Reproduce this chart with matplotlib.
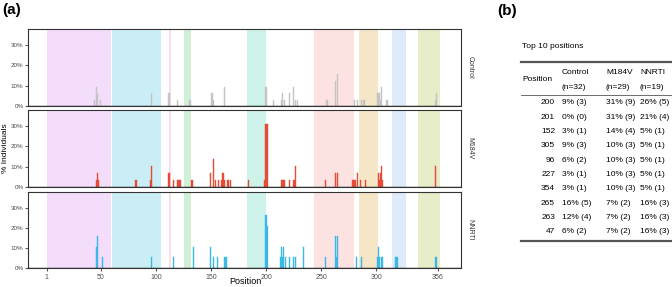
import matplotlib
matplotlib.use("Agg")
import matplotlib.pyplot as plt

# ---- data ----
# shaded regions along the sequence (start, end)
region_start = [1, 60.5, 112, 126, 183, 244, 284, 314, 338]
region_end = [59.5, 105, 114, 132, 200, 280, 302, 327, 358]
region_color = ["#f3ddfb", "#cbeef6", "#fddcea", "#cfefd6", "#cdf2ea",
                "#fde2e2", "#f5e6c8", "#dfeafb", "#e7ecc9"]

ctrl_pos = [44, 46, 47, 50, 96, 112, 120, 131, 151, 152, 162, 200, 207, 214, 215,
            217, 221, 225, 227, 229, 255, 256, 263, 265, 280, 283, 287, 289, 301,
            302, 303, 304, 305, 309, 310, 354, 355]
ctrl_val = [3.1, 9.4, 6.2, 3.1, 6.2, 6.2, 3.1, 3.1, 6.2, 3.1, 9.4, 9.4, 3.1, 3.1, 6.2,
            3.1, 6.2, 9.4, 3.1, 3.1, 3.1, 3.1, 12.5, 15.6, 3.1, 3.1, 3.1, 3.1, 6.2,
            6.2, 6.2, 3.1, 9.4, 3.1, 3.1, 3.1, 6.2]

m184v_pos = [46, 47, 48, 82, 95, 96, 112, 116, 120, 121, 122, 132, 133, 150, 152,
             154, 157, 160, 161, 162, 165, 166, 168, 184, 199, 200, 201, 214, 215,
             216, 217, 221, 225, 226, 227, 254, 263, 265, 279, 280, 281, 283, 286,
             290, 302, 303, 304, 305, 306, 354]
m184v_val = [3.4, 6.9, 3.4, 3.4, 3.4, 10.3, 6.9, 3.4, 3.4, 3.4, 3.4, 3.4, 3.4, 6.9, 13.8,
             3.4, 3.4, 3.4, 6.9, 3.4, 3.4, 3.4, 3.4, 3.4, 3.4, 31.0, 31.0, 3.4, 3.4,
             3.4, 3.4, 3.4, 3.4, 3.4, 10.3, 3.4, 6.9, 6.9, 3.4, 3.4, 3.4, 6.9, 3.4,
             3.4, 6.9, 3.4, 6.9, 10.3, 3.4, 10.3]

nnrti_pos = [46, 47, 52, 96, 116, 134, 150, 152, 156, 162, 163, 164, 200, 201, 213,
             214, 215, 216, 218, 221, 225, 227, 234, 254, 263, 264, 265, 282, 287,
             301, 302, 303, 305, 306, 318, 319, 354, 355]
nnrti_val = [10.5, 15.8, 5.3, 5.3, 5.3, 10.5, 10.5, 5.3, 5.3, 5.3, 5.3, 5.3, 26.3, 21.1, 5.3,
             10.5, 5.3, 10.5, 5.3, 5.3, 5.3, 5.3, 10.5, 5.3, 15.8, 5.3, 15.8, 5.3, 5.3,
             5.3, 10.5, 5.3, 5.3, 5.3, 5.3, 5.3, 5.3, 5.3]

groups = ["Control", "M184V", "NNRTI"]
group_color = ["#c4c4c4", "#e64b35", "#3bb8e5"]

x_ticks = [1, 50, 100, 150, 200, 250, 300, 356]
y_ticks = [0, 10, 20, 30]

tbl_pos = ["200", "201", "152", "305", "96", "227", "354", "265", "263", "47"]
tbl_ctrl = ["9% (3)", "0% (0)", "3% (1)", "9% (3)", "6% (2)", "3% (1)", "3% (1)",
            "16% (5)", "12% (4)", "6% (2)"]
tbl_m184v = ["31% (9)", "31% (9)", "14% (4)", "10% (3)", "10% (3)", "10% (3)",
             "10% (3)", "7% (2)", "7% (2)", "7% (2)"]
tbl_nnrti = ["26% (5)", "21% (4)", "5% (1)", "5% (1)", "5% (1)", "5% (1)", "5% (1)",
             "16% (3)", "16% (3)", "16% (3)"]
tbl_head = ["Control", "M184V", "NNRTI"]
tbl_n = ["(n=32)", "(n=29)", "(n=19)"]

plt.rcParams['font.family'] = ['Liberation Sans', 'DejaVu Sans']

W, H = 672, 287
fig = plt.figure(figsize=(W / 100, H / 100), dpi=100)


def fx(px):
    return px / W


def fy(py):
    return 1 - py / H


panels = [(29, 106), (110, 187), (192, 268)]
series = [(ctrl_pos, ctrl_val), (m184v_pos, m184v_val), (nnrti_pos, nnrti_val)]

for i, (top, bot) in enumerate(panels):
    ax = fig.add_axes([fx(28), fy(bot), fx(461) - fx(28), (bot - top) / H])
    for s, e, c in zip(region_start, region_end, region_color):
        ax.axvspan(s, e, color=c, lw=0, zorder=0)
    pos, val = series[i]
    ax.bar(pos, val, width=1.0, color=group_color[i], edgecolor=group_color[i],
           linewidth=0.3, zorder=2)
    ax.axhline(0, color="#222222", lw=1.0, zorder=3)
    ax.set_xlim(-16, 377)
    ax.set_ylim(0, 37.9)
    ax.set_yticks(y_ticks)
    ax.set_yticklabels([f"{t}%" for t in y_ticks])
    ax.set_xticks(x_ticks)
    if i < 2:
        ax.set_xticklabels([])
        ax.tick_params(axis='x', length=0)
    else:
        ax.tick_params(axis='x', length=2.5, color="#555555", labelsize=5,
                       labelcolor="#4d4d4d", pad=1.5)
    ax.tick_params(axis='y', length=2.0, color="#555555", labelsize=4.5,
                   labelcolor="#4d4d4d", pad=1.2)
    for sp in ax.spines.values():
        sp.set_color("#333333")
        sp.set_linewidth(0.8)
    ax.text(1.012, 0.5, groups[i], transform=ax.transAxes, rotation=-90,
            ha='left', va='center', fontsize=5, color="#333333")

fig.text(fx(2), fy(10), "(a)", fontsize=11, fontweight='bold', va='center', ha='left')
fig.text(fx(6), fy(148), "% Individuals", rotation=90, fontsize=6,
         va='center', ha='center')
fig.text(fx(245), fy(282), "Position", fontsize=6.5, va='center', ha='center')

# ---- panel (b): table ----
fig.text(fx(497), fy(11), "(b)", fontsize=11, fontweight='bold', va='center', ha='left')
tfont = dict(fontsize=6, family=['Liberation Sans Narrow', 'Liberation Sans', 'DejaVu Sans'])
fig.text(fx(522), fy(47), "Top 10 positions", va='center', ha='left', **tfont)

line_ax = fig.add_axes([0, 0, 1, 1], facecolor='none')
line_ax.set_xlim(0, W)
line_ax.set_ylim(H, 0)
line_ax.axis('off')
line_ax.plot([521, 672], [62, 62], color="#555555", lw=1.6)
line_ax.plot([521, 672], [95, 95], color="#555555", lw=0.6)

col_x = [562, 606, 640]
fig.text(fx(522), fy(80), "Position", va='center', ha='left', **tfont)
for cx, h1, h2 in zip(col_x, tbl_head, tbl_n):
    fig.text(fx(cx), fy(73), h1, va='center', ha='left', **tfont)
    fig.text(fx(cx), fy(88), h2, va='center', ha='left', **tfont)

row_y0, row_dy = 103, 14.3
for r in range(len(tbl_pos)):
    y = row_y0 + r * row_dy
    fig.text(fx(555), fy(y), tbl_pos[r], va='center', ha='right', **tfont)
    for cx, col in zip(col_x, [tbl_ctrl, tbl_m184v, tbl_nnrti]):
        fig.text(fx(cx), fy(y), col[r], va='center', ha='left', **tfont)
last_y = row_y0 + (len(tbl_pos) - 1) * row_dy
line_ax.plot([521, 672], [last_y + 9, last_y + 9], color="#555555", lw=1.6)

fig.savefig("out.png", dpi=100)
